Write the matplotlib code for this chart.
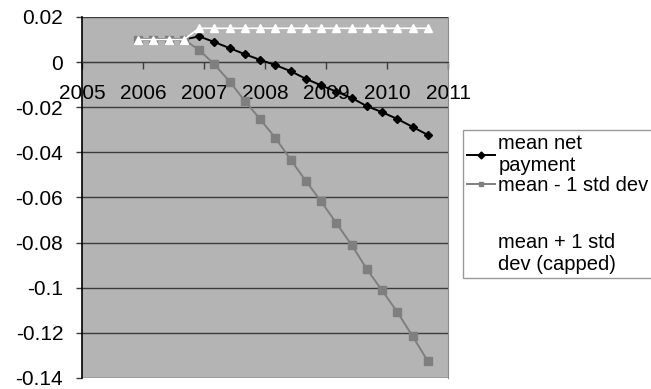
import matplotlib
matplotlib.use("Agg")
from matplotlib import pyplot as plt
from matplotlib.lines import Line2D
from matplotlib.ticker import FuncFormatter, MultipleLocator

plt.rcParams['font.family'] = ['Liberation Sans', 'DejaVu Sans']

# quarterly periods (decimal years)
periods = [2005.92, 2006.17, 2006.42, 2006.67, 2006.92, 2007.17, 2007.42, 2007.67,
           2007.92, 2008.17, 2008.42, 2008.67, 2008.92, 2009.17, 2009.42, 2009.67,
           2009.92, 2010.17, 2010.42, 2010.67]

mean_net = [0.0100, 0.0100, 0.0100, 0.0100, 0.0114, 0.0089, 0.0062, 0.0035,
            0.0010, -0.0013, -0.0040, -0.0074, -0.0103, -0.0131, -0.0159, -0.0195,
            -0.0222, -0.0252, -0.0287, -0.0323]

mean_minus_sd = [0.0100, 0.0100, 0.0100, 0.0100, 0.0054, -0.0010, -0.0086, -0.0172,
                 -0.0253, -0.0336, -0.0432, -0.0527, -0.0617, -0.0714, -0.0810, -0.0918,
                 -0.1012, -0.1108, -0.1215, -0.1326]

mean_plus_sd = [0.0100, 0.0100, 0.0100, 0.0100, 0.0150, 0.0150, 0.0150, 0.0150,
                0.0150, 0.0150, 0.0150, 0.0150, 0.0150, 0.0150, 0.0150, 0.0150,
                0.0150, 0.0150, 0.0150, 0.0150]

labels = ["mean net\npayment", "mean - 1 std dev", "mean + 1 std\ndev (capped)"]

fig = plt.figure(figsize=(6.51, 3.89), dpi=100)
ax = fig.add_axes([82/651, 1 - 378/389, (448 - 82)/651, (378 - 17)/389])
ax.set_facecolor("#b4b4b4")

l1, = ax.plot(periods, mean_net, color="black", lw=1.4, marker="D", ms=4.5,
              label=labels[0], zorder=3)
l2, = ax.plot(periods, mean_minus_sd, color="#7f7f7f", lw=1.4, marker="s", ms=5.5,
              label=labels[1], zorder=4)
l3, = ax.plot(periods, mean_plus_sd, color="white", lw=1.2, marker="^", ms=6,
              label=labels[2], zorder=5)

ax.set_xlim(2005, 2011)
ax.set_ylim(-0.14, 0.02)
ax.xaxis.set_major_locator(MultipleLocator(1))
ax.yaxis.set_major_locator(MultipleLocator(0.02))
ax.xaxis.set_major_formatter(FuncFormatter(lambda v, p: f"{int(round(v))}"))
ax.yaxis.set_major_formatter(FuncFormatter(lambda v, p: f"{round(v, 4) + 0:g}"))

ax.grid(axis="y", color="#3c3c3c", lw=1.0)
ax.set_axisbelow(True)

# x axis crosses at zero
ax.spines["bottom"].set_position(("data", 0))
ax.spines["bottom"].set_color("#3c3c3c")
ax.spines["left"].set_color("black")
ax.spines["left"].set_linewidth(1.2)
ax.spines["top"].set_visible(False)
ax.spines["right"].set_color("#8c8c8c")

ax.tick_params(axis="x", direction="out", length=5, width=1, color="#3c3c3c",
               pad=11, labelsize=15)
ax.tick_params(axis="y", direction="out", length=4, width=1, color="#3c3c3c",
               pad=9.5, labelsize=15)

# empty row keeps the last entry lower in the box
spacer = Line2D([], [], color="none")
leg = fig.legend([l1, l2, spacer, l3], [labels[0], labels[1], " ", labels[2]],
                 loc="upper left", bbox_to_anchor=(463/651, 1 - 130/389),
                 fontsize=14.5, frameon=True, fancybox=False, handlelength=1.4,
                 handletextpad=0.15, borderpad=0.2, labelspacing=0.05,
                 borderaxespad=0)
leg.get_texts()[2].set_fontsize(27)
leg.get_frame().set_edgecolor("#808080")
leg.get_frame().set_linewidth(1.0)
for line in leg.get_lines():
    line.set_markersize(3.5)

fig.savefig("out.png", dpi=100)
